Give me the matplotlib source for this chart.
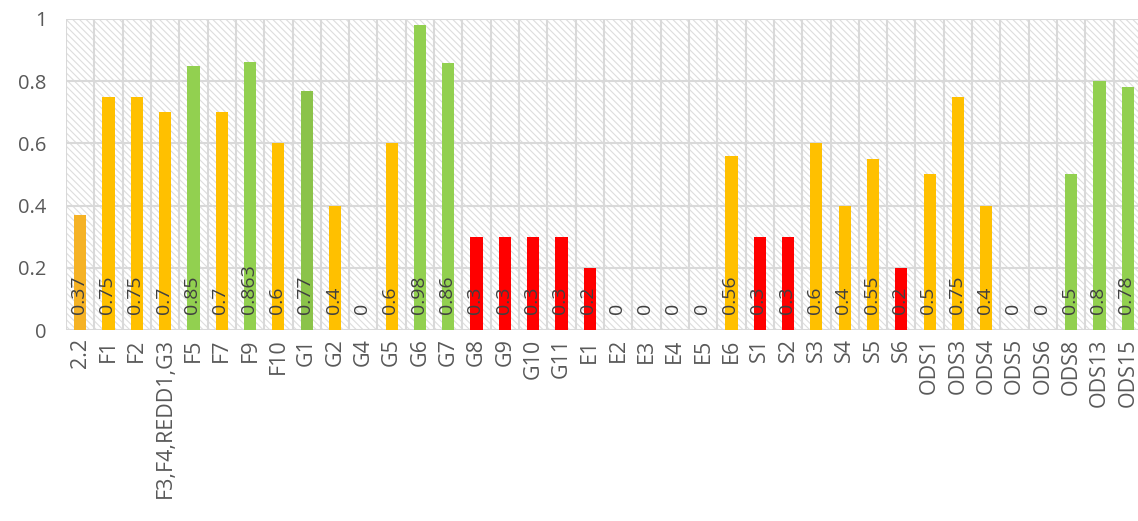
import matplotlib
matplotlib.use("Agg")
import matplotlib.pyplot as plt
from matplotlib.patches import Rectangle
import numpy as np

categories = ['2.2', 'F1', 'F2', 'F3,F4,REDD1,G3', 'F5', 'F7', 'F9', 'F10', 'G1', 'G2',
              'G4', 'G5', 'G6', 'G7', 'G8', 'G9', 'G10', 'G11', 'E1', 'E2', 'E3', 'E4',
              'E5', 'E6', 'S1', 'S2', 'S3', 'S4', 'S5', 'S6', 'ODS1', 'ODS3', 'ODS4',
              'ODS5', 'ODS6', 'ODS8', 'ODS13', 'ODS15']
values = [0.37, 0.75, 0.75, 0.7, 0.85, 0.7, 0.863, 0.6, 0.77, 0.4,
          0, 0.6, 0.98, 0.86, 0.3, 0.3, 0.3, 0.3, 0.2, 0, 0, 0,
          0, 0.56, 0.3, 0.3, 0.6, 0.4, 0.55, 0.2, 0.5, 0.75, 0.4,
          0, 0, 0.5, 0.8, 0.78]
levels = ['o2', 'o', 'o', 'o', 'g', 'o', 'g', 'o', 'g2', 'o',
          'o', 'o', 'g', 'g', 'r', 'r', 'r', 'r', 'r', 'o', 'o', 'o',
          'o', 'o', 'r', 'r', 'o', 'o', 'o', 'r', 'o', 'o', 'o',
          'o', 'o', 'g', 'g', 'g']
palette = {'o': '#FFC000', 'o2': '#F5B225', 'g': '#92D050', 'g2': '#8BC34A', 'r': '#FF0000'}
yticks = [0, 0.2, 0.4, 0.6, 0.8, 1]

plt.rcParams['font.family'] = ['Open Sans', 'DejaVu Sans']
plt.rcParams['hatch.linewidth'] = 0.8
plt.rcParams['hatch.color'] = '#DDDDDD'

W, H = 1138, 521
fig = plt.figure(figsize=(W / 100, H / 100), dpi=100)
left, right, top, bottom = 66, 1142, 19, 330
ax = fig.add_axes([left / W, (H - bottom) / H, (right - left) / W, (bottom - top) / H])

n = len(categories)
x = np.arange(n)
ax.set_xlim(-0.5, n - 0.5)
ax.set_ylim(0, 1)

# hatched background
bg = Rectangle((0, 0), 1, 1, transform=ax.transAxes, facecolor='white',
               edgecolor='#DDDDDD', hatch='\\\\\\\\\\', linewidth=0, zorder=0)
ax.add_patch(bg)

gridc = '#D9D9D9'
for yv in yticks:
    ax.axhline(yv, color=gridc, lw=1.5, zorder=1)
for b in np.arange(-0.5, n, 1.0):
    ax.axvline(b, color=gridc, lw=1.5, zorder=1)

cols = [palette[l] for l in levels]
ax.bar(x, values, width=0.43, color=cols, zorder=2)

for xi, v in zip(x, values):
    ax.annotate(f"{v:g}", (xi, 0), xytext=(-1, 11.5), textcoords='offset points',
                rotation=90, ha='center', va='bottom', fontsize=14, color='#404040',
                zorder=3)

for s in ax.spines.values():
    s.set_visible(False)
ax.set_xticks(x)
ax.set_xticklabels(categories, rotation=90, fontsize=15.5, color='#595959')
ax.set_yticks(yticks)
ax.set_yticklabels([f"{t:g}" for t in yticks], fontsize=14.5, color='#595959')
ax.tick_params(axis='both', length=0)
ax.tick_params(axis='x', pad=6)
ax.tick_params(axis='y', pad=14)

fig.savefig('out.png', dpi=100)
